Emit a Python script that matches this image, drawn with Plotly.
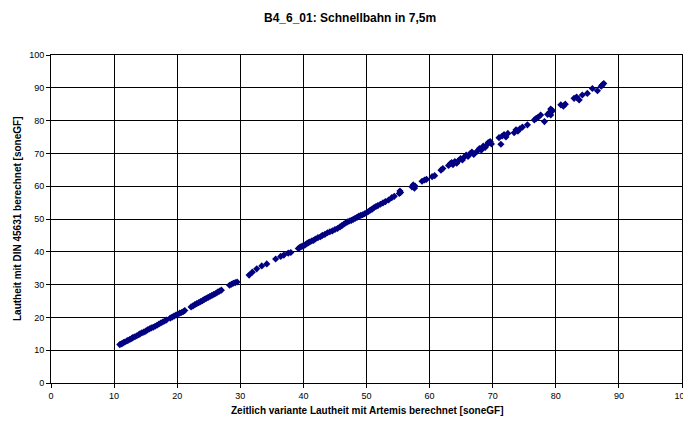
import plotly.graph_objects as go

artemis = [10.9,11.1,11.3,11.5,11.7,12.0,12.2,12.5,12.8,13.0,13.3,13.6,13.9,14.1,14.4,14.7,15.0,15.3,15.6,15.9,16.2,16.5,16.8,17.1,17.4,17.7,18.0,18.3,18.9,19.2,19.5,19.8,20.1,20.4,20.7,21.0,21.2,
           22.2,22.5,22.8,23.1,23.4,23.7,24.0,24.3,24.6,24.9,25.2,25.5,25.8,26.1,26.4,26.7,27.0,28.3,28.6,28.9,29.2,29.5,
           31.4,31.9,32.6,33.4,34.2,35.6,36.4,36.9,37.6,38.0,
           39.2,39.4,39.6,39.8,40.0,40.2,40.4,40.6,40.8,41.0,41.3,41.6,41.9,42.3,42.7,43.0,43.4,43.8,44.2,44.6,45.0,45.4,45.8,46.1,46.4,46.7,47.0,47.3,47.6,47.9,48.2,48.5,48.8,49.1,49.4,49.7,50.0,50.3,50.6,50.9,51.2,51.5,51.8,52.2,52.6,53.0,53.5,54.0,54.4,
           55.2,55.3,55.4,57.2,57.4,57.6,57.7,58.8,59.2,59.5,60.4,60.8,61.8,62.1,
           63.0,63.3,63.5,63.7,64.0,64.3,64.6,64.9,65.2,65.5,65.8,66.1,66.4,66.7,67.0,67.5,67.9,68.2,68.5,68.8,69.1,69.3,69.6,69.8,71.0,71.3,71.5,71.8,72.1,72.4,73.4,73.7,74.0,74.3,74.7,75.5,76.6,76.9,77.2,77.6,78.2,78.7,79.0,79.2,79.2,79.5,80.8,81.2,81.5,82.9,83.3,83.7,84.2,85.0,85.8,86.6,87.2,87.4,87.6]
din = [11.7,11.9,12.1,12.3,12.5,12.8,13.0,13.3,13.6,13.9,14.1,14.4,14.7,15.0,15.3,15.5,15.8,16.2,16.5,16.8,17.0,17.3,17.6,18.0,18.3,18.6,18.9,19.2,19.8,20.1,20.4,20.7,21.0,21.3,21.5,21.8,22.1,
       23.2,23.5,23.9,24.2,24.5,24.8,25.1,25.5,25.8,26.1,26.4,26.7,27.0,27.3,27.7,28.0,28.3,29.8,30.1,30.4,30.6,30.8,
       32.9,33.8,34.8,35.7,36.3,37.8,38.6,39.0,39.6,39.8,
       41.0,41.3,41.5,41.7,41.9,42.0,42.3,42.6,42.8,43.0,43.3,43.5,43.9,44.3,44.6,45.0,45.3,45.8,46.1,46.4,46.8,47.1,47.6,48.0,48.4,48.8,49.1,49.4,49.6,49.9,50.2,50.5,50.9,51.1,51.3,51.6,51.9,52.3,52.7,53.0,53.5,53.8,54.1,54.5,54.9,55.3,55.8,56.5,56.9,
       57.8,58.5,58.1,59.8,60.4,59.4,60.0,61.5,61.9,62.1,62.9,63.2,64.9,65.4,
       66.3,66.9,67.2,66.6,67.5,67.0,67.8,68.4,68.0,68.9,69.5,69.1,69.9,70.4,69.7,70.6,71.5,71.0,72.2,71.8,72.6,73.3,73.6,72.9,74.8,72.8,75.3,75.7,75.0,76.1,76.3,77.2,76.8,77.5,78.0,78.7,80.2,80.7,81.0,81.7,79.7,81.9,82.5,81.7,83.5,83.0,84.8,84.4,85.0,86.8,87.2,86.3,87.8,88.3,89.8,89.1,90.5,90.9,91.3]

tick_vals = list(range(0, 101, 10))

fig = go.Figure(go.Scatter(
    x=artemis, y=din, mode="markers",
    marker=dict(symbol="diamond", size=5.5, color="#000080", line=dict(width=0)),
))

axis_common = dict(
    range=[0, 100], tickvals=tick_vals, showgrid=True, gridcolor="#000000", gridwidth=1,
    showline=True, linecolor="#000000", linewidth=1, mirror=True,
    ticks="outside", ticklen=4, tickcolor="#000000", zeroline=False,
    ticklabeloverflow="allow",
    tickfont=dict(family="Liberation Sans, Arial", size=9, color="#000000"),
)

# page body has an 8px default margin, so the figure is sized to fit the window
fig.update_layout(
    width=683, height=413,
    margin=dict(l=43, r=9, t=47, b=38),
    paper_bgcolor="white", plot_bgcolor="white",
    showlegend=False,
    xaxis=dict(axis_common, automargin=False),
    yaxis=axis_common,
    font=dict(family="Liberation Sans, Arial", color="#000000"),
    annotations=[
        dict(text="<b>B4_6_01: Schnellbahn in 7,5m</b>", xref="paper", yref="paper",
             x=(350 - 51) / (682 - 51), xanchor="center", y=1.0, yshift=37, yanchor="middle",
             showarrow=False, font=dict(size=12)),
        dict(text="<b>Zeitlich variante Lautheit mit Artemis berechnet [soneGF]</b>", xref="paper", yref="paper",
             x=0.5, xanchor="center", y=0, yshift=-27, yanchor="middle", showarrow=False,
             font=dict(size=10)),
        dict(text="<b>Lautheit mit DIN 45631 berechnet [soneGF]</b>", xref="paper", yref="paper",
             x=0, xshift=-34, xanchor="center", y=0.5, yanchor="middle", textangle=-90, showarrow=False,
             font=dict(size=10)),
    ],
)

fig.write_html("out.html")
